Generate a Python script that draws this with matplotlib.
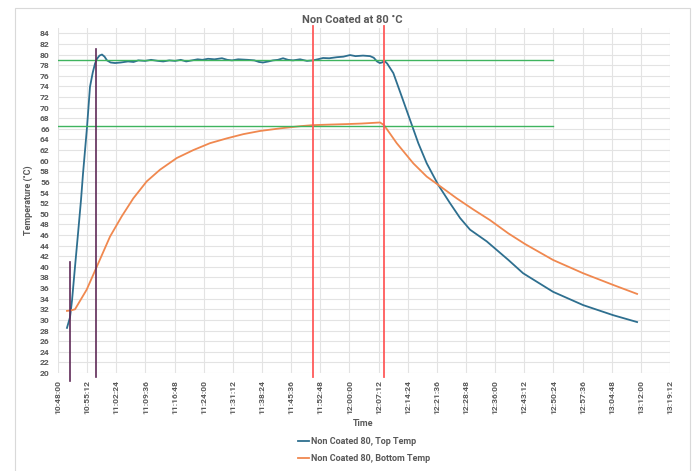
import matplotlib
matplotlib.use("Agg")
import matplotlib.pyplot as plt
from matplotlib.ticker import FixedLocator, FuncFormatter
from matplotlib.patches import Rectangle

# ---------------- data ----------------
top_times = ["10:50:13", "10:50:58", "10:51:28", "10:52:12", "10:52:57", "10:53:41", "10:54:11",
             "10:55:10", "10:55:54", "10:56:35", "10:57:09", "10:57:38", "10:58:15", "10:58:52",
             "10:59:30", "11:00:06", "11:01:00", "11:02:05", "11:03:30", "11:05:18", "11:06:40",
             "11:07:50", "11:09:30", "11:11:00", "11:12:43", "11:14:00", "11:15:30", "11:16:55",
             "11:18:20", "11:19:40", "11:21:07", "11:22:30", "11:23:40", "11:25:04", "11:26:40",
             "11:28:31", "11:29:50", "11:31:00", "11:32:30", "11:34:57", "11:36:30", "11:37:40",
             "11:38:39", "11:40:00", "11:41:07", "11:42:20", "11:43:36", "11:44:50", "11:46:04",
             "11:47:48", "11:49:30", "11:51:00", "11:52:10", "11:53:29", "11:55:00", "11:56:56",
             "11:58:30", "12:00:09", "12:01:30", "12:03:22", "12:05:06", "12:06:00", "12:06:49",
             "12:07:30", "12:08:03", "12:08:40", "12:09:20", "12:10:51", "12:12:55", "12:14:58",
             "12:17:01", "12:19:06", "12:21:58", "12:24:51", "12:27:20", "12:29:48", "12:33:55",
             "12:39:16", "12:42:54", "12:50:18", "12:57:43", "13:05:08", "13:11:04"]
top_temp = [28.5, 30.5, 33.7, 40.0, 46.3, 52.6, 57.6,
            66.3, 73.9, 76.6, 78.3, 79.2, 79.8, 80.0,
            79.6, 78.9, 78.5, 78.4, 78.5, 78.7, 78.6,
            78.9, 78.8, 79.0, 78.8, 78.7, 78.9, 78.8,
            79.0, 78.7, 78.9, 79.1, 79.0, 79.2, 79.1,
            79.3, 79.0, 78.9, 79.1, 79.0, 78.9, 78.6,
            78.5, 78.7, 78.9, 79.0, 79.3, 79.0, 78.9,
            79.1, 78.8, 78.9, 79.1, 79.35, 79.3, 79.5,
            79.6, 79.9, 79.7, 79.8, 79.7, 79.4, 78.7,
            78.4, 78.5, 78.8, 78.3, 76.5, 72.1, 67.7,
            63.3, 59.5, 55.4, 52.0, 49.2, 47.0, 44.8,
            41.3, 38.8, 35.3, 32.8, 30.9, 29.6]

bottom_times = ["10:50:13", "10:51:13", "10:52:12", "10:55:05", "10:57:34", "11:00:51", "11:03:44",
                "11:06:36", "11:09:55", "11:13:12", "11:17:20", "11:21:26", "11:25:33", "11:29:41",
                "11:33:47", "11:37:55", "11:43:00", "11:47:48", "11:51:00", "11:55:00", "11:59:24",
                "12:03:00", "12:07:34", "12:08:33", "12:11:41", "12:15:47", "12:19:06", "12:22:23",
                "12:26:31", "12:30:37", "12:34:44", "12:39:16", "12:43:23", "12:50:18", "12:57:43",
                "13:05:08", "13:11:04"]
bottom_temp = [31.7, 31.8, 32.0, 35.7, 40.0, 45.7, 49.5,
               52.9, 56.1, 58.3, 60.5, 62.0, 63.3, 64.2,
               65.0, 65.6, 66.1, 66.5, 66.7, 66.8, 66.9,
               67.0, 67.2, 66.7, 63.3, 59.5, 57.0, 55.2,
               52.9, 50.8, 48.8, 46.3, 44.3, 41.3, 38.8,
               36.6, 34.9]

series_names = ["Non Coated 80, Top Temp", "Non Coated 80, Bottom Temp"]

# reference lines
target_levels = [79.0, 66.6]
target_end = "12:50:24"
purple_times = ["10:50:58", "10:57:23"]
purple_ranges = [(18.4, 41.0), (19.3, 81.1)]
red_times = ["11:51:00", "12:08:33"]

x_start, x_end, x_step = "10:48:00", "13:19:12", 432
y_min, y_max, y_step = 20, 85, 2

title = "Non Coated at 80 \u02daC"
x_label = "Time"
y_label = "Temperature (\u02daC)"


def secs(t):
    h, m, s = map(int, t.split(":"))
    return h * 3600 + m * 60 + s


def fmt(v, pos=None):
    v = int(round(v))
    return f"{v // 3600}:{(v % 3600) // 60:02d}:{v % 60:02d}"


# ---------------- plot ----------------
plt.rcParams['font.family'] = ['Roboto', 'DejaVu Sans']
txt = "#595959"
blue = "#2e6f8f"
orange = "#f0884f"
green = "#3fb45f"
red = "#ff5a5a"
purple = "#5f2a57"

fig = plt.figure(figsize=(6.95, 4.71), dpi=100)
fig.patches.append(Rectangle((15 / 695, -0.01), 675 / 695, 1 - 8 / 471 + 0.01,
                             transform=fig.transFigure, fill=False,
                             edgecolor="#d9d9d9", linewidth=0.8))
ax = fig.add_axes([58 / 695, 1 - 373 / 471, 612 / 695, 345 / 471])

xs0, xs1 = secs(x_start), secs(x_end)
ax.set_xlim(xs0, xs1)
ax.set_ylim(y_min, y_max)

ax.xaxis.set_major_locator(FixedLocator(list(range(xs0, xs1 + 1, x_step))))
ax.xaxis.set_major_formatter(FuncFormatter(fmt))
ax.yaxis.set_major_locator(FixedLocator(list(range(y_min, y_max, y_step))))
ax.grid(True, color="#e3e3e3", linewidth=0.8)
ax.set_axisbelow(True)
for sp in ax.spines.values():
    sp.set_visible(False)
ax.tick_params(axis="both", length=0, colors=txt, labelsize=6.1)
ax.tick_params(axis="x", pad=5, labelrotation=90)
ax.tick_params(axis="y", pad=6)
for lab in ax.get_xticklabels() + ax.get_yticklabels():
    lab.set_fontweight("bold")

l1, = ax.plot([secs(t) for t in top_times], top_temp, color=blue, linewidth=1.3, label=series_names[0])
l2, = ax.plot([secs(t) for t in bottom_times], bottom_temp, color=orange, linewidth=1.3, label=series_names[1])

for lvl in target_levels:
    ax.plot([xs0, secs(target_end)], [lvl, lvl], color=green, linewidth=1.0, zorder=3)
for t, (lo, hi) in zip(purple_times, purple_ranges):
    ax.plot([secs(t), secs(t)], [lo, hi], color=purple, linewidth=1.2, clip_on=False, zorder=4)
for t in red_times:
    ax.plot([secs(t), secs(t)], [19.3, 85.3], color=red, linewidth=1.3, clip_on=False, zorder=4)

fig.text(352.5 / 695, 1 - 20 / 471, title, ha="center", va="center",
         fontsize=8.0, fontweight="bold", color=txt)
fig.text(28 / 695, 1 - 200 / 471, y_label, rotation=90, ha="center", va="center",
         fontsize=6.5, fontweight="bold", color=txt)
fig.text(363 / 695, 1 - 424 / 471, x_label, ha="center", va="center",
         fontsize=6.5, fontweight="bold", color=txt)

leg = fig.legend(handles=[l1, l2], loc="center", bbox_to_anchor=(364 / 695, 1 - 450 / 471),
                 ncol=1, frameon=False, handlelength=1.3, handletextpad=0.2,
                 labelspacing=0.9, labelcolor=txt, prop={"weight": "bold", "size": 6.5})

fig.savefig("out.png", dpi=100)
